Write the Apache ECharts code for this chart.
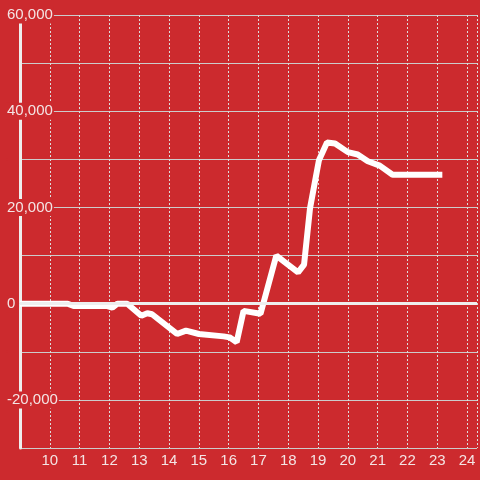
<!DOCTYPE html>
<html>
<head>
<meta charset="utf-8">
<script src="https://cdn.jsdelivr.net/npm/echarts@6/dist/echarts.min.js"></script>
<style>
  html, body { margin: 0; padding: 0; background: #cc2a2e; }
  #chart { width: 480px; height: 480px; }
</style>
</head>
<body>
<div id="chart"></div>
<script>
// hour of day (x) and value (y)
const hours = [9, 10.6, 10.8, 11.93, 12.1, 12.27, 12.6, 13.07, 13.27, 13.43, 14.27, 14.57, 15.0, 15.83, 16.03, 16.27,
  16.5, 17.07, 17.6, 18.33, 18.53, 18.73, 19.03, 19.3, 19.57, 20.0, 20.33, 20.67, 21.07, 21.5, 23.17]
const values = [0, 0, -500, -500, -800, 0, 0, -2500, -2000, -2200, -6300, -5600, -6300, -6800, -7000, -8000,
  -1500, -2100, 10000, 6500, 8100, 19800, 29800, 33500, 33300, 31500, 31000, 29600, 28700, 26800, 26800]
const yLabels = [-20000, 0, 20000, 40000, 60000]

const bg = '#cc2a2e'
const textColor = '#f4e4e4'
const font = 'Liberation Sans, Arial, sans-serif'

const chart = echarts.init(document.getElementById('chart'))

const option = {
  backgroundColor: bg,
  animation: false,
  grid: { left: 20, right: 0, top: 15, bottom: 32, containLabel: false },
  xAxis: {
    type: 'value',
    min: 9,
    max: 24.333,
    interval: 1,
    axisLine: { show: true, lineStyle: { color: '#d8d8d8', width: 1 } },
    axisTick: { show: false },
    axisLabel: {
      color: textColor, fontSize: 15, fontFamily: font, margin: 5,
      formatter: v => (Number.isInteger(v) && v > 9) ? String(v) : ''
    },
    splitLine: { show: true, lineStyle: { color: '#dddddd', width: 1, type: [2, 2] } }
  },
  yAxis: {
    type: 'value',
    min: -30000,
    max: 60000,
    interval: 10000,
    axisLine: { show: true, lineStyle: { color: '#eeeeee', width: 3 } },
    axisTick: { show: false },
    axisLabel: {
      color: textColor, fontSize: 15, fontFamily: font,
      align: 'left', margin: 14,
      backgroundColor: bg, padding: [1, 1],
      formatter: v => yLabels.includes(v) ? v.toLocaleString('en-US') : ''
    },
    splitLine: { show: true, lineStyle: { color: '#cccccc', width: 1 } }
  },
  series: [{
    type: 'line',
    data: hours.map((h, i) => [h, values[i]]),
    symbol: 'none',
    lineStyle: { color: '#ffffff', width: 6 },
    markLine: {
      silent: true,
      symbol: 'none',
      label: { show: false },
      lineStyle: { color: '#eeeeee', width: 3, type: 'solid' },
      data: [{ yAxis: 0 }]
    },
    z: 3
  }]
}

chart.setOption(option)
</script>
</body>
</html>
